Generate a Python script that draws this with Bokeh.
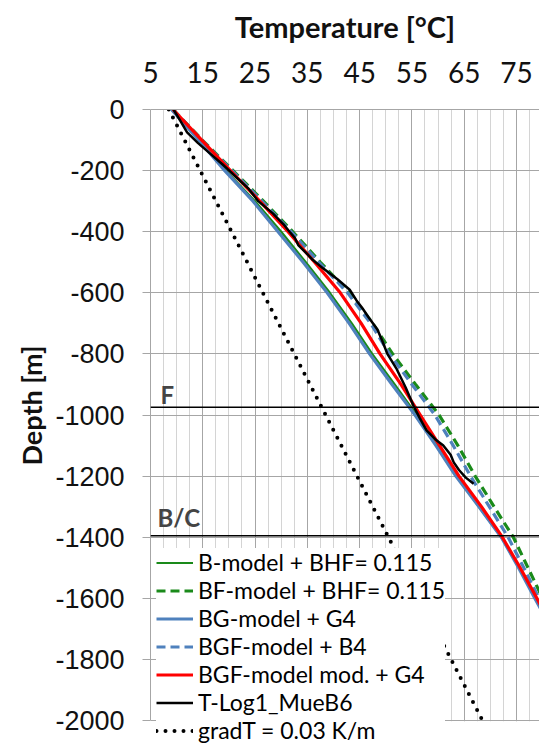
from bokeh.plotting import figure
from bokeh.models import (Range1d, FixedTicker, Span, Label, Legend, LegendItem,
                          BoxAnnotation, Title)
from bokeh.embed import file_html
from bokeh.resources import INLINE

# ---- data ----
depth_model = [0, -100, -200, -300, -400, -500, -600, -700, -800, -900,
               -1000, -1100, -1200, -1300, -1400, -1500, -1600, -1700]
t_b_model = [9.0, 14.3, 19.4, 25.0, 30.0, 34.7, 39.3, 43.5, 47.4, 51.7,
             55.9, 59.8, 63.5, 67.8, 72.1, 75.5, 78.6, 81.8]
t_bf_model = [9.3, 14.9, 20.8, 26.6, 32.2, 37.5, 43.0, 47.5, 51.3, 55.7,
              60.2, 63.8, 67.1, 70.7, 74.4, 77.2, 80.0, 82.8]
t_bg_model = [9.0, 14.2, 19.2, 24.6, 29.4, 34.2, 38.8, 43.0, 46.9, 51.2,
              55.6, 59.6, 63.4, 67.8, 72.1, 75.4, 78.5, 81.7]
t_bgf_model = [9.3, 14.8, 20.6, 26.3, 31.9, 37.2, 42.7, 47.1, 50.7, 55.0,
               59.4, 62.9, 66.2, 69.8, 73.4, 76.4, 79.3, 82.2]
t_bgf_mod = [9.3, 14.8, 20.3, 25.9, 31.3, 36.4, 41.3, 45.3, 48.9, 52.9,
             56.6, 60.3, 64.0, 68.3, 72.3, 75.7, 78.9, 82.0]

depth_log = [0, -40, -75, -110, -150, -180, -220, -260, -300, -340, -375,
             -400, -420, -445, -470, -490, -520, -555, -590, -625, -650,
             -680, -720, -760, -800, -850, -910, -970, -1010, -1050, -1080,
             -1100, -1130, -1155, -1180, -1205, -1225]
t_log = [9.4, 10.8, 12.0, 14.1, 16.8, 18.8, 21.3, 23.8, 25.6, 28.4, 30.4,
         31.6, 32.6, 33.3, 34.8, 35.9, 38.0, 40.7, 43.1, 44.4, 45.5,
         46.7, 48.4, 49.4, 50.3, 52.1, 53.8, 55.3, 56.5, 57.8, 59.5,
         61.0, 62.4, 63.0, 64.0, 65.3, 66.8]

depth_grad = [0, -2000]
t_grad = [8.5, 68.5]

f_depth = -975
bc_depth = -1395

x_ticks = [5, 15, 25, 35, 45, 55, 65, 75]
x_minor = [5, 7.5, 10, 12.5, 15, 17.5, 20, 22.5, 25, 27.5, 30, 32.5, 35, 37.5,
           40, 42.5, 45, 47.5, 50, 52.5, 55, 57.5, 60, 62.5, 65, 67.5, 70,
           72.5, 75, 77.5]
y_ticks = [0, -200, -400, -600, -800, -1000, -1200, -1400, -1600, -1800, -2000]
y_min, y_max = -2000, 0

GREEN = "#1a8a1a"
BLUE = "#4f81bd"
RED = "#ff0000"

# frame: top at 109 px, -2000 at 720 px, frame continues to the canvas bottom (744 px)
p = figure(width=539, height=744, x_range=Range1d(5, 79.4),
           y_range=Range1d(y_min - 78.5, y_max),
           x_axis_location="above", output_backend="svg", toolbar_location=None,
           min_border_left=150, min_border_right=0, min_border_top=109,
           min_border_bottom=0)
p.outline_line_color = None

# axes
xa = p.xaxis[0]
xa.ticker = FixedTicker(ticks=x_ticks, minor_ticks=x_minor)
xa.axis_label = "Temperature [°C]"
xa.axis_label_text_font = "Lato"
xa.axis_label_text_font_style = "bold"
xa.axis_label_text_font_size = "29px"
xa.axis_label_text_color = "#111111"
xa.axis_label_standoff = 15
xa.major_label_text_font = "Lato"
xa.major_label_text_font_size = "28px"
xa.major_label_text_color = "#111111"
xa.major_label_standoff = 27
xa.major_tick_out = 0
xa.major_tick_in = 0
xa.minor_tick_out = 0
xa.minor_tick_in = 0
xa.axis_line_color = "#a6a6a6"

ya = p.yaxis[0]
ya.ticker = FixedTicker(ticks=y_ticks)
ya.bounds = (y_min, y_max)
ya.major_label_overrides = {t: str(t) for t in y_ticks}
ya.major_label_text_font = "Liberation Sans"
ya.major_label_text_font_size = "27px"
ya.major_label_text_color = "#111111"
ya.major_label_standoff = 18
ya.major_tick_out = 8
ya.major_tick_in = 0
ya.minor_tick_out = 0
ya.minor_tick_in = 0
ya.axis_line_color = "#a6a6a6"
ya.major_tick_line_color = "#a6a6a6"

# y axis title as a side title (placed like the reference, above the frame centre)
p.add_layout(Title(text="Depth [m]", align="left", offset=279, standoff=10,
                   text_font="Lato", text_font_style="bold", text_font_size="27px",
                   text_color="#111111"), "left")

p.xgrid.grid_line_color = "#a6a6a6"
p.xgrid.minor_grid_line_color = "#d4d4d4"
p.ygrid.grid_line_color = "#a6a6a6"

# blank area below the last depth tick
p.add_layout(BoxAnnotation(top=y_min - 2, fill_color="white", fill_alpha=1.0,
                           line_color=None))

# horizons
p.add_layout(Span(location=f_depth, dimension="width", line_color="black", line_width=1.5))
p.add_layout(Span(location=bc_depth, dimension="width", line_color="black", line_width=1.5))
p.add_layout(Label(x=5, y=f_depth, x_offset=10, y_offset=13, text="F",
                   text_font="Lato", text_font_style="bold", text_font_size="24px",
                   text_baseline="alphabetic"))
p.add_layout(Label(x=5, y=bc_depth, x_offset=7, y_offset=18, text="B/C",
                   text_font="Lato", text_font_style="bold", text_font_size="24px",
                   text_baseline="alphabetic"))

# curves
r_grad = p.line(t_grad, depth_grad, line_color="black", line_width=4,
                line_dash="0 9", line_cap="round")
r_b = p.line(t_b_model, depth_model, line_color=GREEN, line_width=2.2)
r_bf = p.line(t_bf_model, depth_model, line_color=GREEN, line_width=3.2, line_dash="9 5")
r_bg = p.line(t_bg_model, depth_model, line_color=BLUE, line_width=3.2)
r_bgf = p.line(t_bgf_model, depth_model, line_color=BLUE, line_width=3.2, line_dash="9 5")
r_mod = p.line(t_bgf_mod, depth_model, line_color=RED, line_width=3.2)
r_log = p.line(t_log, depth_log, line_color="black", line_width=2.5)

legend = Legend(items=[
    LegendItem(label="B-model + BHF= 0.115", renderers=[r_b]),
    LegendItem(label="BF-model + BHF= 0.115", renderers=[r_bf]),
    LegendItem(label="BG-model + G4", renderers=[r_bg]),
    LegendItem(label="BGF-model + B4", renderers=[r_bgf]),
    LegendItem(label="BGF-model mod. + G4", renderers=[r_mod]),
    LegendItem(label="T-Log1_MueB6", renderers=[r_log]),
    LegendItem(label="gradT = 0.03 K/m", renderers=[r_grad]),
], location=(6, 0))
legend.label_text_font = "Lato"
legend.label_text_font_size = "23px"
legend.label_text_color = "#000000"
legend.label_height = 27
legend.glyph_height = 27
legend.glyph_width = 37
legend.label_standoff = 5
legend.spacing = 0
legend.padding = 2
legend.margin = 0
legend.border_line_color = None
legend.background_fill_color = "white"
legend.background_fill_alpha = 1.0
p.add_layout(legend, "center")

open("out.html", "w").write(file_html(p, INLINE))
